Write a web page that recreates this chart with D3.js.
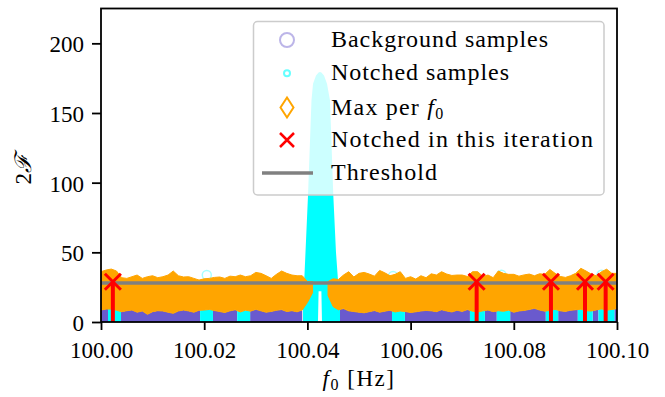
<!DOCTYPE html>
<html><head><meta charset="utf-8">
<script src="https://cdn.jsdelivr.net/npm/d3@7"></script>
<style>
body{margin:0;background:#fff}
svg{display:block}
text{font-family:"Liberation Serif","DejaVu Serif",serif;fill:#000}
</style>
</head><body>
<svg id="c" width="665" height="397"></svg>
<script>
// ---------------- DATA ----------------
const f0 = [100.000,100.001,100.002,100.003,100.004,100.005,100.006,100.007,100.008,100.009,
100.010,100.011,100.012,100.013,100.014,100.015,100.016,100.017,100.018,100.019,
100.020,100.021,100.022,100.023,100.024,100.025,100.026,100.027,100.028,100.029,
100.030,100.031,100.032,100.033,100.034,100.035,100.036,100.037,100.038,100.039,
100.040,100.041,100.042,100.043,100.044,100.045,100.046,100.047,100.048,100.049,
100.050,100.051,100.052,100.053,100.054,100.055,100.056,100.057,100.058,100.059,
100.060,100.061,100.062,100.063,100.064,100.065,100.066,100.067,100.068,100.069,
100.070,100.071,100.072,100.073,100.074,100.075,100.076,100.077,100.078,100.079,
100.080,100.081,100.082,100.083,100.084,100.085,100.086,100.087,100.088,100.089,
100.090,100.091,100.092,100.093,100.094,100.095,100.096,100.097,100.098,100.099,100.100];

// "Max per f0" band: upper and lower envelope of the dense diamond markers
const maxUpper = [36.1,37.3,38.0,36.6,31.8,31.3,32.5,33.7,31.3,32.5,33.2,31.8,32.5,33.7,36.6,33.2,32.3,32.5,31.3,30.1,31.0,
31.3,32.0,32.3,31.3,32.9,32.5,33.7,32.5,33.2,35.6,34.9,33.2,31.3,34.2,36.6,34.9,33.7,33.2,33.2,
29.0,29.0,null,null,29.0,31.0,
30.5,33.7,36.1,32.3,34.9,35.6,34.4,32.9,37.0,35.3,33.2,34.2,36.1,31.3,32.5,30.8,33.2,31.8,
34.6,33.7,36.1,34.4,33.4,33.7,33.7,32.7,36.1,36.1,32.7,33.7,31.8,36.6,34.9,34.2,34.2,32.9,33.8,
34.4,33.2,34.6,34.2,37.7,34.9,32.7,32.0,33.2,34.9,38.5,36.6,34.4,33.2,36.1,37.9,34.9,34.9];
const maxLower = [8.6,9.3,9.3,8.4,7.4,8.1,8.6,7.0,7.9,5.5,7.4,8.1,7.9,7.0,6.2,7.9,8.6,7.9,7.0,8.4,8.6,
9.0,8.2,7.5,6.8,8.0,8.8,7.2,8.5,7.8,9.1,8.0,7.0,7.6,8.4,8.9,7.5,8.1,7.3,8.6,
14,21,null,null,19,11,
8.8,9.6,8.0,7.5,7.0,6.6,7.4,8.2,7.0,7.8,8.4,7.2,7.9,7.5,6.8,7.3,7.9,8.3,
8.0,7.4,8.8,7.9,7.2,8.4,7.6,8.9,7.8,7.2,8.0,8.6,7.4,8.1,7.7,8.5,7.0,7.9,8.3,
9.0,9.8,8.6,7.8,8.3,9.1,8.0,7.6,8.4,8.8,9.2,8.1,7.9,8.7,9.4,8.5,9.0,9.6];

// Notched frequency bands (where background samples are replaced)
const notchedBands = [[100.00136,100.00388],[100.0192,100.0217],[100.0264,100.0289],
  [100.0390,100.0463],[100.0564,100.0589],[100.0715,100.0744],[100.0767,100.0793],
  [100.0862,100.0886],[100.0924,100.0953],[100.0964,100.0995]];

// The strong notched line (cyan peak)
const peakF0    = [100.03915,100.03963,100.04012,100.04079,100.04109,100.04167,100.04205,100.04217,
                   100.04244,100.04271,100.04283,100.04322,100.04380,100.04438,100.04502,100.04554,100.04632];
const peakUpper = [10,50,91,159,171,177,178.5,179,179.5,179,178.5,177,171,159,91,50,10];
const peakLower = [0,0,0,0,0,0,0,22,22,22,0,0,0,0,0,0,0];

// isolated notched samples above the band
const notchedOutlierF0  = [100.0205,100.0566,100.0776,100.0970];
const notchedOutlierVal = [33.7,33.0,34.0,34.0];

// Notched in this iteration
const notchedNowF0  = [100.0023,100.0728,100.0872,100.0938,100.0978];
const notchedNowVal = [28.9,28.9,28.9,28.9,28.9];

const threshold = 28;

const xTickValues = [100.00,100.02,100.04,100.06,100.08,100.10];
const yTickValues = [0,50,100,150,200];
const legendLabels = ["Background samples","Notched samples","Max per ","Notched in this iteration","Threshold"];

// ---------------- CHART ----------------
const svg = d3.select("#c");
const L=101, R=617, T=8.5, B=322;
const x = d3.scaleLinear().domain([100,100.1]).range([L,R]);
const y = d3.scaleLinear().domain([0,225]).range([B,T]);

const C = {bg:"#6a5acd", cyan:"#00ffff", orange:"#ffa500", red:"#ff0000", grey:"#808080"};

const defs = svg.append("defs");
defs.append("clipPath").attr("id","plot").append("rect")
  .attr("x",L).attr("y",T).attr("width",R-L).attr("height",B-T);
const mask = defs.append("mask").attr("id","bgmask");
mask.append("rect").attr("x",0).attr("y",0).attr("width",665).attr("height",397).attr("fill","#fff");
notchedBands.forEach(b=>{
  mask.append("rect").attr("x",x(b[0])).attr("y",0).attr("width",x(b[1])-x(b[0])).attr("height",397).attr("fill","#000");
});
const bandClip = defs.append("clipPath").attr("id","bands");
notchedBands.forEach((b,i)=>{
  if(i===3) return; // the peak band is drawn by the peak itself
  bandClip.append("rect").attr("x",x(b[0])).attr("y",0).attr("width",x(b[1])-x(b[0])).attr("height",397);
});

const pts = f0.map((f,i)=>({f, hi:maxUpper[i], lo:maxLower[i]}));
const plot = svg.append("g").attr("clip-path","url(#plot)");

// background samples
const bgArea = d3.area().defined(d=>d.lo!=null).x(d=>x(d.f)).y0(y(0)).y1(d=>y(d.lo));
plot.append("path").datum(pts).attr("d",bgArea).attr("fill",C.bg).attr("mask","url(#bgmask)");

// notched samples (low level)
plot.append("path").datum(pts).attr("d",bgArea).attr("fill",C.cyan).attr("clip-path","url(#bands)");

// notched peak
const peakPts = peakF0.map((f,i)=>({f, hi:peakUpper[i], lo:peakLower[i]}));
plot.append("path").datum(peakPts)
  .attr("d", d3.area().x(d=>x(d.f)).y0(d=>y(d.lo)).y1(d=>y(d.hi)))
  .attr("fill",C.cyan);

// outlier notched samples
plot.selectAll("circle.out").data(notchedOutlierF0).join("circle")
  .attr("cx",d=>x(d)).attr("cy",(d,i)=>y(notchedOutlierVal[i])).attr("r",4.5)
  .attr("fill","none").attr("stroke",C.cyan).attr("stroke-opacity",0.35).attr("stroke-width",1.5);

// max per f0
plot.append("path").datum(pts)
  .attr("d", d3.area().defined(d=>d.hi!=null).x(d=>x(d.f)).y0(d=>y(d.lo)).y1(d=>y(d.hi)))
  .attr("fill",C.orange).attr("stroke",C.orange).attr("stroke-width",1).attr("stroke-linejoin","round");

// threshold
plot.append("line").attr("x1",L).attr("x2",R).attr("y1",y(threshold)).attr("y2",y(threshold))
  .attr("stroke",C.grey).attr("stroke-width",3.5);

// notched in this iteration
const red = plot.append("g");
notchedNowF0.forEach((f,i)=>{
  const cx=x(f), cy=y(notchedNowVal[i]);
  red.append("line").attr("x1",cx).attr("x2",cx).attr("y1",y(0)).attr("y2",cy)
    .attr("stroke",C.red).attr("stroke-width",4);
  const s=8;
  red.append("path").attr("d",`M${cx-s},${cy-s}L${cx+s},${cy+s}M${cx-s},${cy+s}L${cx+s},${cy-s}`)
    .attr("stroke",C.red).attr("stroke-width",3).attr("fill","none");
});

// axes
const xAxis = d3.axisBottom(x).tickValues(xTickValues).tickFormat(d3.format(".2f")).tickSize(8).tickPadding(6);
const yAxis = d3.axisLeft(y).tickValues(yTickValues).tickFormat(d3.format("d")).tickSize(9).tickPadding(8);
const gx = svg.append("g").attr("transform",`translate(0,${B})`).call(xAxis);
const gy = svg.append("g").attr("transform",`translate(${L},0)`).call(yAxis);
[gx,gy].forEach(g=>{
  g.select(".domain").remove();
  g.selectAll(".tick line").attr("stroke","#000").attr("stroke-width",1.8);
  g.selectAll(".tick text").attr("font-size",23).attr("font-family","Liberation Serif");
});
gx.selectAll(".tick text").attr("dy",null).attr("y",36);
gy.selectAll(".tick text").attr("dy",null).attr("y",8.5);
svg.append("rect").attr("x",L).attr("y",T).attr("width",R-L).attr("height",B-T)
  .attr("fill","none").attr("stroke","#000").attr("stroke-width",1.8);

// axis labels
const xl = svg.append("text").attr("x",(L+R)/2).attr("y",386).attr("text-anchor","middle").attr("font-size",23)
  .attr("letter-spacing",1.5);
xl.append("tspan").attr("font-style","italic").text("f");
xl.append("tspan").attr("font-size",16).attr("dy",4).text("0");
xl.append("tspan").attr("dy",-4).text("\u00a0[Hz]");
const yl = svg.append("text").attr("transform",`translate(31,${(T+B)/2+4}) rotate(-90)`).attr("text-anchor","middle").attr("font-size",23);
yl.append("tspan").text("2");
yl.append("tspan").attr("font-family","DejaVu Serif").attr("font-style","italic").text("\u2131");

// legend
const lg = svg.append("g");
lg.append("rect").attr("x",253.5).attr("y",21.5).attr("width",350.5).attr("height",173.5).attr("rx",4)
  .attr("fill","#fff").attr("fill-opacity",0.8).attr("stroke","#cccccc").attr("stroke-width",1.5);
const rows=[40,73.3,107.5,140,173];
const mx=287;
lg.append("circle").attr("cx",mx).attr("cy",rows[0]).attr("r",7).attr("fill","none")
  .attr("stroke",C.bg).attr("stroke-opacity",0.45).attr("stroke-width",2);
lg.append("circle").attr("cx",mx).attr("cy",rows[1]).attr("r",3).attr("fill","none")
  .attr("stroke",C.cyan).attr("stroke-opacity",0.6).attr("stroke-width",2);
lg.append("path").attr("d",`M${mx},${rows[2]-10}L${mx+6.5},${rows[2]}L${mx},${rows[2]+10}L${mx-6.5},${rows[2]}Z`)
  .attr("fill","none").attr("stroke",C.orange).attr("stroke-width",2);
lg.append("path").attr("d",`M${mx-7},${rows[3]-7}L${mx+7},${rows[3]+7}M${mx-7},${rows[3]+7}L${mx+7},${rows[3]-7}`)
  .attr("stroke",C.red).attr("stroke-width",2.5);
lg.append("line").attr("x1",262).attr("x2",313).attr("y1",rows[4]).attr("y2",rows[4])
  .attr("stroke",C.grey).attr("stroke-width",3.5);
const widths=[217,178,118,262,106];
legendLabels.forEach((t,i)=>{
  const tx = lg.append("text").attr("x",331).attr("y",rows[i]+7).attr("font-size",24);
  tx.append("tspan").text(t);
  if(i===2){
    tx.attr("letter-spacing",1.2);
    tx.append("tspan").attr("font-style","italic").text("f");
    tx.append("tspan").attr("font-size",16).attr("dy",4).text("0");
  } else {
    tx.attr("textLength",widths[i]).attr("lengthAdjust","spacing");
  }
});
</script>
</body></html>
